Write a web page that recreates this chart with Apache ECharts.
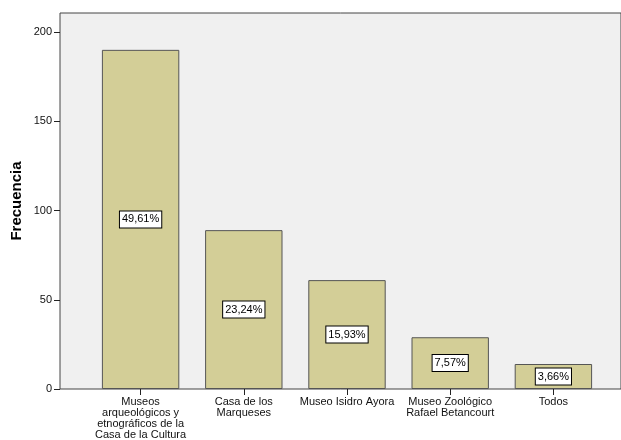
<!DOCTYPE html>
<html><head><meta charset="utf-8">
<script src="https://cdn.jsdelivr.net/npm/echarts@6/dist/echarts.min.js"></script>
<style>html,body{margin:0;padding:0;background:#fff}#c{width:621px;height:440px}</style>
</head><body><div id="c"></div>
<script>
const categories = ['Museos\narqueológicos y\netnográficos de la\nCasa de la Cultura', 'Casa de los\nMarqueses', 'Museo Isidro Ayora', 'Museo Zoológico\nRafael Betancourt', 'Todos'];
const frequencies = [190, 89, 61, 29, 14];
const percentLabels = ['49,61%', '23,24%', '15,93%', '7,57%', '3,66%'];
const yTicks = [0, 50, 100, 150, 200];

const font = 'Liberation Sans, Arial, sans-serif';
const chart = echarts.init(document.getElementById('c'), null, {renderer: 'canvas'});
chart.setOption({
  animation: false,
  backgroundColor: '#fff',
  grid: [
    {left: 60, right: 0, top: 13, bottom: 51, show: true, backgroundColor: '#f0f0f0', borderColor: '#444', borderWidth: 1, outerBoundsMode: 'none', containLabel: false},
    {left: 89, right: 16, top: 32, bottom: 51, outerBoundsMode: 'none', containLabel: false}
  ],
  xAxis: [
    {gridIndex: 0, type: 'value', show: false, min: 0, max: 1},
    {gridIndex: 1, type: 'category', data: categories,
     axisLine: {show: false},
     axisTick: {show: true, alignWithLabel: true, length: 6, lineStyle: {color: '#222'}},
     axisLabel: {color: '#111', fontFamily: font, fontSize: 11, lineHeight: 10.8, margin: 8, interval: 0}}
  ],
  yAxis: [
    {gridIndex: 0, type: 'value', show: true, min: 0, max: 1,
     axisLine: {show: false}, axisTick: {show: false}, axisLabel: {show: false}, splitLine: {show: false},
     name: 'Frecuencia', nameLocation: 'middle', nameGap: 36, nameRotate: 90,
     nameTextStyle: {fontFamily: font, fontSize: 15, fontWeight: 'bold', color: '#000'}},
    {gridIndex: 1, type: 'value', min: yTicks[0], max: yTicks[yTicks.length - 1], interval: 50, offset: 29,
     axisLine: {show: false},
     axisTick: {show: true, length: 6, lineStyle: {color: '#222'}},
     splitLine: {show: false},
     axisLabel: {color: '#111', fontFamily: font, fontSize: 11, margin: 8}}
  ],
  series: [{
    type: 'bar', xAxisIndex: 1, yAxisIndex: 1,
    data: frequencies,
    barCategoryGap: '25%',
    itemStyle: {color: '#d3ce97', borderColor: '#555', borderWidth: 1},
    label: {show: true, position: 'inside', formatter: p => percentLabels[p.dataIndex],
      color: '#000', fontFamily: font, fontSize: 11, backgroundColor: '#fff',
      borderColor: '#000', borderWidth: 1, padding: [3, 2, 2, 2]}
  }]
});
</script></body></html>
